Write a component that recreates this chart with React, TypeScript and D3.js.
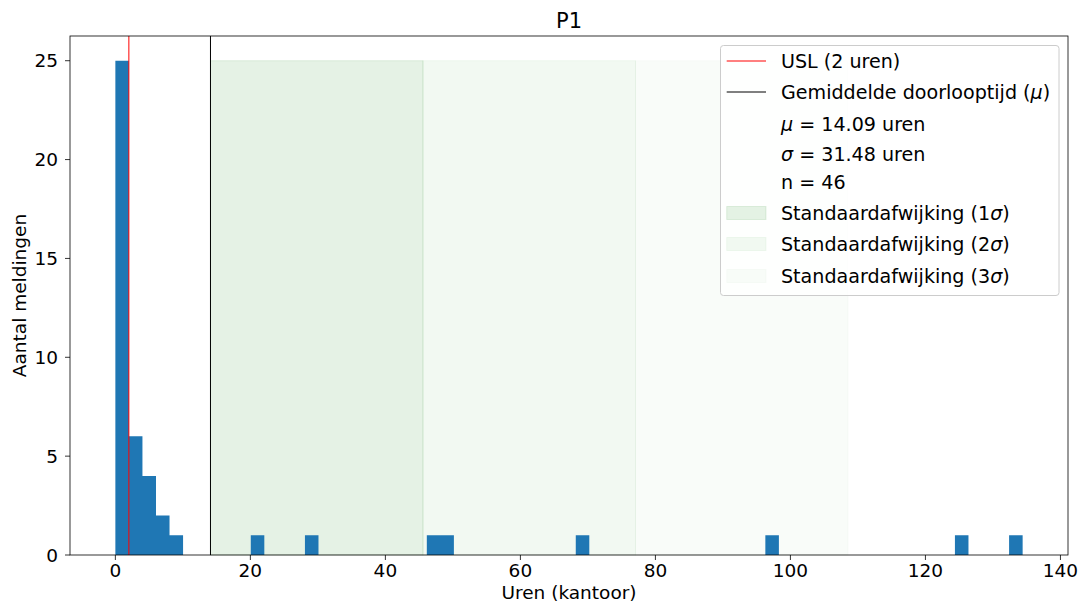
import React from "react";
import * as d3 from "d3";

// ---- data ----
const title = "P1";
const xLabel = "Uren (kantoor)";
const yLabel = "Aantal meldingen";
const dataMin = 0;
const dataMax = 134.4;
const binCount = 67;
// counts per bin (67 equal-width bins from dataMin to dataMax)
const counts = [
  25, 6, 4, 2, 1, 0, 0, 0, 0, 0,
  1, 0, 0, 0, 1, 0, 0, 0, 0, 0,
  0, 0, 0, 1, 1, 0, 0, 0, 0, 0,
  0, 0, 0, 0, 1, 0, 0, 0, 0, 0,
  0, 0, 0, 0, 0, 0, 0, 0, 1, 0,
  0, 0, 0, 0, 0, 0, 0, 0, 0, 0,
  0, 0, 1, 0, 0, 0, 1,
];
const usl = 2;
const mu = 14.09;
const sigma = 31.48;
const n = 46;
const xTicks = [0, 20, 40, 60, 80, 100, 120, 140];
const yTicks = [0, 5, 10, 15, 20, 25];
const sigmaLevels = [1, 2, 3];
const sigmaAlphas = [0.1, 0.05, 0.025];

const FONT = "DejaVu Sans, sans-serif";
const FS = 18.5;
const LFS = 19.1;

export default function App() {
  const W = 1081;
  const H = 610;
  const L = 70, R = 1068, T = 36, B = 555;
  const span = dataMax - dataMin;
  const x = d3.scaleLinear().domain([dataMin - span * 0.05, dataMax + span * 0.05]).range([L, R]);
  const maxCount = d3.max(counts) as number;
  const y = d3.scaleLinear().domain([0, maxCount * 1.05]).range([B, T]);
  const bw = span / binCount;

  const barPath = d3.path();
  counts.forEach((c, i) => {
    if (c > 0) {
      const x0 = x(dataMin + i * bw);
      const x1 = x(dataMin + (i + 1) * bw);
      barPath.rect(x0, y(c), x1 - x0, y(0) - y(c));
    }
  });

  const legendX = 720.5, legendY = 45.5, legendW = 338.5, legendH = 250;
  const hx0 = 726.7, hx1 = 766, tx = 781;
  const rows = [61, 92, 124, 154, 182, 213, 244, 276];

  return (
    <svg width={W} height={H} style={{ position: "absolute", left: 0, top: 0 }} fontFamily={FONT}>
      <rect x={0} y={0} width={W} height={H} fill="#fff" />
      {/* sigma bands */}
      {sigmaLevels.map((k, i) => (
        <rect key={k}
          x={x(mu + (k - 1) * sigma)} y={y(maxCount)}
          width={x(mu + k * sigma) - x(mu + (k - 1) * sigma)}
          height={y(0) - y(maxCount)}
          fill="green" fillOpacity={sigmaAlphas[i]}
          stroke="green" strokeOpacity={sigmaAlphas[i]} strokeWidth={1} />
      ))}
      {/* histogram bars */}
      <path d={barPath.toString()} fill="#1f77b4" />
      {/* vertical lines */}
      <line x1={x(usl)} x2={x(usl)} y1={T} y2={B} stroke="red" strokeWidth={1} />
      <line x1={x(mu)} x2={x(mu)} y1={T} y2={B} stroke="black" strokeWidth={1} />
      {/* spines */}
      <rect x={L} y={T} width={R - L} height={B - T} fill="none" stroke="#000" strokeWidth={0.8} />
      {/* x ticks */}
      {xTicks.map((t) => (
        <g key={t}>
          <line x1={x(t)} x2={x(t)} y1={B} y2={B + 5} stroke="#000" strokeWidth={0.8} />
          <text x={x(t)} y={B + 21.5} textAnchor="middle" fontSize={FS} fill="#000">{t}</text>
        </g>
      ))}
      {/* y ticks */}
      {yTicks.map((t) => (
        <g key={t}>
          <line x1={L - 5} x2={L} y1={y(t)} y2={y(t)} stroke="#000" strokeWidth={0.8} />
          <text x={L - 12} y={y(t)} textAnchor="end" dominantBaseline="central" fontSize={FS} fill="#000">{t}</text>
        </g>
      ))}
      {/* labels */}
      <text x={(L + R) / 2} y={599} textAnchor="middle" fontSize={FS} fill="#000">{xLabel}</text>
      <text transform={`translate(26,${(T + B) / 2}) rotate(-90)`} textAnchor="middle" fontSize={FS} fill="#000">{yLabel}</text>
      <text x={(L + R) / 2} y={28} textAnchor="middle" fontSize={21} fill="#000">{title}</text>
      {/* legend */}
      <rect x={legendX} y={legendY} width={legendW} height={legendH} rx={3} fill="#fff" fillOpacity={0.8} stroke="#cccccc" strokeWidth={1} />
      <line x1={hx0} x2={hx1} y1={rows[0]} y2={rows[0]} stroke="red" strokeWidth={1} />
      <text x={tx} y={rows[0]} dominantBaseline="central" fontSize={LFS}>USL ({usl} uren)</text>
      <line x1={hx0} x2={hx1} y1={rows[1]} y2={rows[1]} stroke="black" strokeWidth={1} />
      <text x={tx} y={rows[1]} dominantBaseline="central" fontSize={LFS}>Gemiddelde doorlooptijd (<tspan fontStyle="italic">μ</tspan>)</text>
      <text x={tx} y={rows[2]} dominantBaseline="central" fontSize={LFS}><tspan fontStyle="italic">μ</tspan> = {mu.toFixed(2)} uren</text>
      <text x={tx} y={rows[3]} dominantBaseline="central" fontSize={LFS}><tspan fontStyle="italic">σ</tspan> = {sigma.toFixed(2)} uren</text>
      <text x={tx} y={rows[4]} dominantBaseline="central" fontSize={LFS}>n = {n}</text>
      {sigmaLevels.map((k, i) => (
        <g key={k}>
          <rect x={hx0} y={rows[5 + i] - 6.5} width={hx1 - hx0} height={13}
            fill="green" fillOpacity={sigmaAlphas[i]} stroke="green" strokeOpacity={sigmaAlphas[i]} strokeWidth={1} />
          <text x={tx} y={rows[5 + i]} dominantBaseline="central" fontSize={LFS}>Standaardafwijking ({k}<tspan fontStyle="italic">σ</tspan>)</text>
        </g>
      ))}
    </svg>
  );
}
